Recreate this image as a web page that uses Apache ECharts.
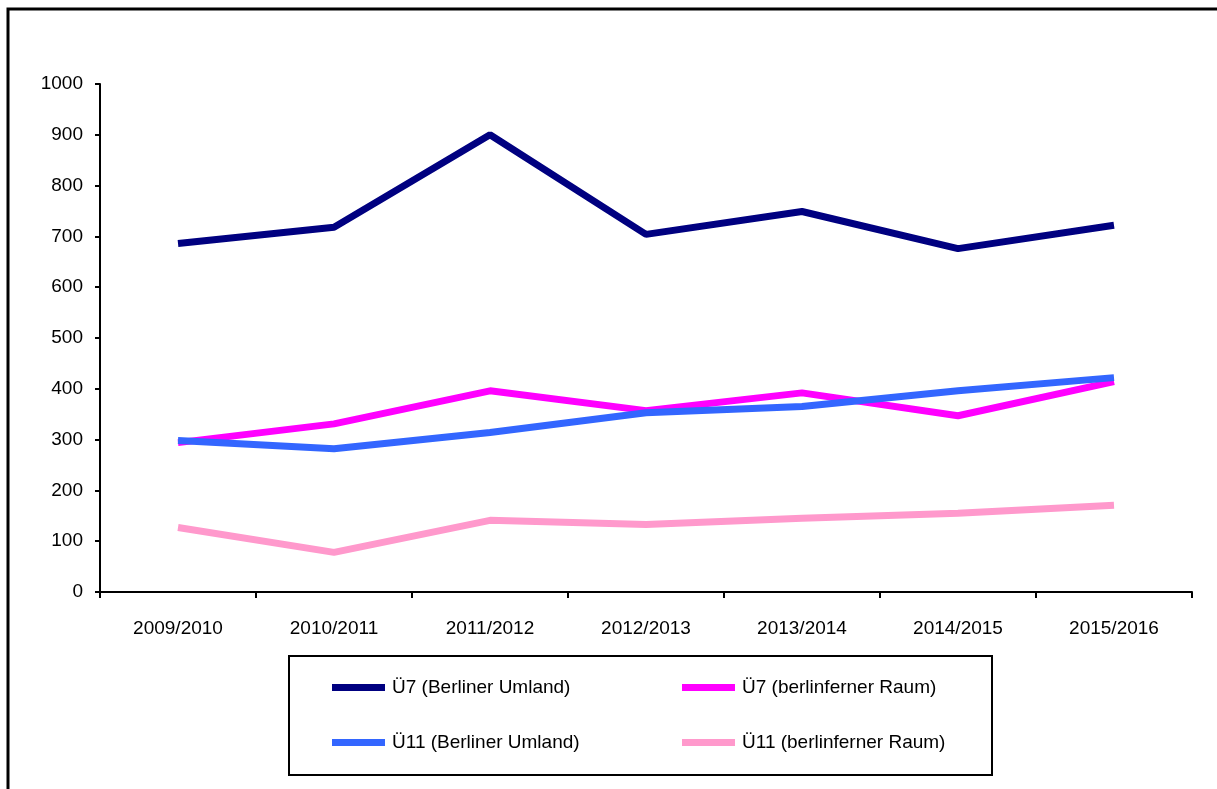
<!DOCTYPE html>
<html>
<head>
<meta charset="utf-8">
<style>
  html, body { margin: 0; padding: 0; background: #fff; }
  #chart { width: 1217px; height: 789px; }
</style>
<script src="https://cdn.jsdelivr.net/npm/echarts@6/dist/echarts.min.js"></script>
</head>
<body>
<div id="chart"></div>
<script>
  // school years
  const years = ['2009/2010', '2010/2011', '2011/2012', '2012/2013', '2013/2014', '2014/2015', '2015/2016'];

  const u7Umland = [686, 718, 900, 704, 749, 676, 722];
  const u7Fern = [294, 331, 396, 357, 392, 347, 414];
  const u11Umland = [298, 282, 314, 353, 365, 396, 422];
  const u11Fern = [127, 78, 141, 133, 145, 155, 171];

  const names = ['Ü7 (Berliner Umland)', 'Ü7 (berlinferner Raum)', 'Ü11 (Berliner Umland)', 'Ü11 (berlinferner Raum)'];
  const colors = ['#000080', '#FF00FF', '#3366FF', '#FF99CC'];

  const font = 'Liberation Sans, Arial, sans-serif';

  function lineSeries(i, data) {
    return {
      name: names[i],
      type: 'line',
      data: data,
      symbol: 'none',
      lineStyle: { width: 7, color: colors[i] },
      itemStyle: { color: colors[i] },
      animation: false
    };
  }

  const legendCommon = {
    orient: 'vertical',
    icon: 'rect',
    itemWidth: 53,
    itemHeight: 7,
    itemGap: 36,
    textStyle: { fontSize: 19, color: '#000', fontFamily: font, padding: [0, 0, 0, 2] }
  };

  const chart = echarts.init(document.getElementById('chart'));
  chart.setOption({
    backgroundColor: '#fff',
    animation: false,
    graphic: [
      {
        type: 'rect',
        shape: { x: 8, y: 9, width: 1230, height: 800 },
        style: { fill: 'none', stroke: '#000', lineWidth: 3 }
      },
      {
        type: 'rect',
        shape: { x: 289, y: 656, width: 703, height: 119 },
        style: { fill: 'none', stroke: '#000', lineWidth: 2 }
      }
    ],
    grid: { left: 100, right: 25, top: 84, bottom: 197 },
    legend: [
      Object.assign({ left: 327, top: 673, data: [names[0], names[2]] }, legendCommon),
      Object.assign({ left: 677, top: 673, data: [names[1], names[3]] }, legendCommon)
    ],
    xAxis: {
      type: 'category',
      data: years,
      boundaryGap: true,
      axisLine: { lineStyle: { color: '#000', width: 2 } },
      axisTick: { show: true, length: 6, lineStyle: { color: '#000', width: 2 } },
      axisLabel: { fontSize: 19, color: '#000', fontFamily: font, margin: 27 },
      splitLine: { show: false }
    },
    yAxis: {
      type: 'value',
      min: 0,
      max: 1000,
      interval: 100,
      axisLine: { show: true, lineStyle: { color: '#000', width: 2 } },
      axisTick: { show: true, length: 5, lineStyle: { color: '#000', width: 2 } },
      axisLabel: { fontSize: 19, color: '#000', fontFamily: font, margin: 17, formatter: function (v) { return String(v); } },
      splitLine: { show: false }
    },
    series: [
      lineSeries(0, u7Umland),
      lineSeries(1, u7Fern),
      lineSeries(2, u11Umland),
      lineSeries(3, u11Fern)
    ]
  });
</script>
</body>
</html>
